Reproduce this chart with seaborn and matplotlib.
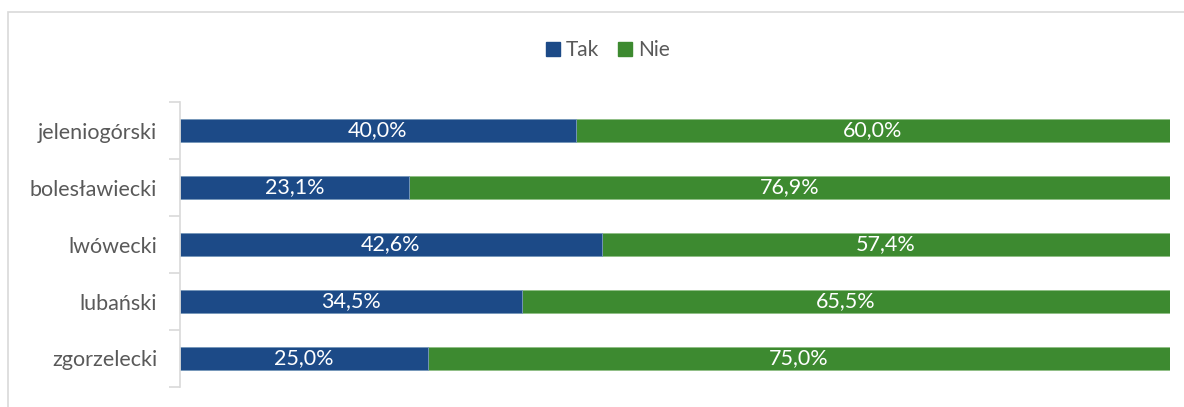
import matplotlib
matplotlib.use("Agg")
import matplotlib.pyplot as plt
from matplotlib.patches import Rectangle, Patch
import seaborn as sns
import pandas as pd

# Survey answers per county (percent)
powiaty = ["jeleniogórski", "bolesławiecki", "lwówecki", "lubański", "zgorzelecki"]
tak = [40.0, 23.1, 42.6, 34.5, 25.0]
nie = [60.0, 76.9, 57.4, 65.5, 75.0]
series_names = ["Tak", "Nie"]

BLUE = "#1c4a87"
GREEN = "#3d8a30"
TEXT = "#595959"
GRID = "#d9d9d9"

sns.set_theme(style="white")
plt.rcParams["font.family"] = ["Lato", "DejaVu Sans"]

df = pd.DataFrame({"powiat": powiaty, "tak": tak, "nie": nie})
df["total"] = df["tak"] + df["nie"]

fig = plt.figure(figsize=(11.84, 4.07), dpi=100)
ax = fig.add_axes([180 / 1184, 1 - 387 / 407, 990 / 1184, 285 / 407])

# Stacked horizontal bars: full length first, then the "Tak" share on top
sns.barplot(data=df, y="powiat", x="total", color=GREEN, orient="y",
            width=0.42, edgecolor="#8fbf85", linewidth=0.6, saturation=1, ax=ax)
sns.barplot(data=df, y="powiat", x="tak", color=BLUE, orient="y",
            width=0.42, edgecolor="#7f9cc4", linewidth=0.6, saturation=1, ax=ax)

# Value labels centred in each segment
for i, (t, n) in enumerate(zip(tak, nie)):
    ax.text(t / 2, i, f"{t:.1f}%".replace(".", ","), ha="center", va="center",
            color="white", fontsize=15.5)
    ax.text(t + n / 2, i, f"{n:.1f}%".replace(".", ","), ha="center", va="center",
            color="white", fontsize=15.5)

ax.set_xlim(0, 100)
ax.set_ylim(len(powiaty) - 0.5, -0.5)
ax.set_xlabel("")
ax.set_ylabel("")
ax.set_xticks([])

# Category axis: ticks at the boundaries between categories
ax.set_yticks([i - 0.5 for i in range(len(powiaty) + 1)], minor=False)
ax.set_yticklabels([])
ax.set_yticks(range(len(powiaty)), minor=True)
ax.set_yticklabels(powiaty, minor=True, fontsize=15.5, color=TEXT)
ax.tick_params(axis="y", which="major", length=8, width=1.2, color=GRID, left=True)
ax.tick_params(axis="y", which="minor", length=0, pad=16.5)

for side in ["top", "right", "bottom"]:
    ax.spines[side].set_visible(False)
ax.spines["left"].set_color(GRID)
ax.spines["left"].set_linewidth(1.2)

# Legend
handles = [Patch(facecolor=BLUE, edgecolor=BLUE), Patch(facecolor=GREEN, edgecolor=GREEN)]
fig.legend(handles, series_names, loc="center", bbox_to_anchor=(608 / 1184, 1 - 50 / 407),
           ncol=2, frameon=False, fontsize=15, labelcolor=TEXT,
           handlelength=0.65, handleheight=0.65, handletextpad=0.3, columnspacing=0.9)

# Chart area border
fig.patches.append(Rectangle((8 / 1184, -0.1), 1.2, 1 - 12 / 407 + 0.1,
                             transform=fig.transFigure, fill=False,
                             edgecolor=GRID, linewidth=1.2))

fig.savefig("out.png", dpi=100, facecolor="white")
